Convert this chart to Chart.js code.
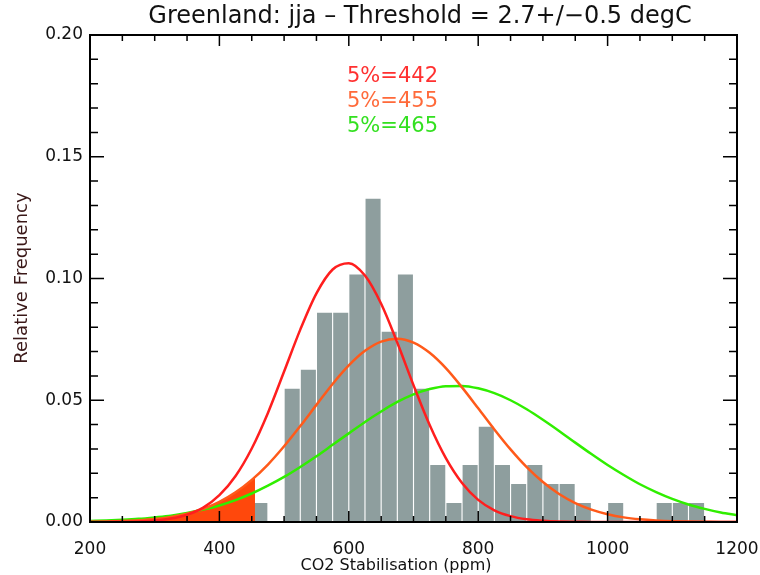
<!DOCTYPE html>
<html>
<head>
<meta charset="utf-8">
<script src="https://cdn.jsdelivr.net/npm/chart.js@4.4.1/dist/chart.umd.min.js"></script>
<style>
  body { margin: 0; background: #fff; }
  #wrap { width: 760px; height: 575px; }
</style>
</head>
<body>
<div id="wrap"><canvas id="chart" width="760" height="575"></canvas></div>
<script>
// histogram bins (bin centres, 25 ppm wide) and relative frequency
const binCentres = [462.5, 512.5, 537.5, 562.5, 587.5, 612.5, 637.5, 662.5, 687.5, 712.5, 737.5, 762.5,
  787.5, 812.5, 837.5, 862.5, 887.5, 912.5, 937.5, 962.5, 1012.5, 1087.5, 1112.5, 1137.5];
const binFreq = [0.0078, 0.0547, 0.0625, 0.0859, 0.0859, 0.1016, 0.1328, 0.0781, 0.1016, 0.0547, 0.0234, 0.0078,
  0.0234, 0.0391, 0.0234, 0.0156, 0.0234, 0.0156, 0.0156, 0.0078, 0.0078, 0.0078, 0.0078, 0.0078];

// fitted curves, read every 25 ppm
const curveX = [200, 225, 250, 275, 300, 325, 350, 375, 400, 425, 450, 475, 500, 525, 550, 575, 600, 625, 650, 675,
  700, 725, 750, 775, 800, 825, 850, 875, 900, 925, 950, 975, 1000, 1025, 1050, 1075, 1100, 1125, 1150, 1175, 1200];
const redCurve = [0.0000, 0.0000, 0.0001, 0.0002, 0.0006, 0.0014, 0.0030, 0.0059, 0.0110, 0.0189, 0.0302, 0.0448,
  0.0618, 0.0790, 0.0939, 0.1037, 0.1063, 0.1012, 0.0896, 0.0736, 0.0562, 0.0398, 0.0262, 0.0160, 0.0091, 0.0048,
  0.0024, 0.0011, 0.0005, 0.0002, 0.0001, 0.0000, 0.0000, 0.0000, 0.0000, 0.0000, 0.0000, 0.0000, 0.0000, 0.0000, 0.0000];
const orangeCurve = [0.0001, 0.0002, 0.0004, 0.0007, 0.0012, 0.0021, 0.0034, 0.0054, 0.0083, 0.0122, 0.0173, 0.0236,
  0.0311, 0.0394, 0.0481, 0.0567, 0.0643, 0.0703, 0.0741, 0.0753, 0.0737, 0.0695, 0.0632, 0.0553, 0.0467, 0.0380,
  0.0298, 0.0225, 0.0164, 0.0115, 0.0078, 0.0051, 0.0032, 0.0019, 0.0011, 0.0006, 0.0003, 0.0002, 0.0001, 0.0000, 0.0000];
const greenCurve = [0.0004, 0.0006, 0.0009, 0.0013, 0.0019, 0.0026, 0.0037, 0.0051, 0.0068, 0.0090, 0.0117, 0.0149,
  0.0185, 0.0226, 0.0270, 0.0317, 0.0364, 0.0411, 0.0454, 0.0493, 0.0524, 0.0546, 0.0558, 0.0559, 0.0549, 0.0529,
  0.0500, 0.0463, 0.0420, 0.0374, 0.0326, 0.0279, 0.0234, 0.0193, 0.0155, 0.0123, 0.0095, 0.0072, 0.0054, 0.0039, 0.0028];

// shaded tail below the 5% point
const tailX = [200, 225, 250, 275, 300, 325, 350, 375, 400, 425, 450, 455, 455];
const tailY = [0.0001, 0.0002, 0.0004, 0.0007, 0.0012, 0.0021, 0.0034, 0.0054, 0.0083, 0.0122, 0.0173, 0.0185, 0];

const percentLabels = ['5%=442', '5%=455', '5%=465'];
const percentColours = ['#ff3030', '#ff6a3a', '#33e020'];

const xy = (xs, ys) => xs.map((x, i) => ({ x: x, y: ys[i] }));

const fontFamily = '"DejaVu Sans", sans-serif';

const idlAxes = {
  id: 'idlAxes',
  afterDraw(chart) {
    const { ctx, chartArea: a, scales } = chart;
    const xs = scales.x, ys = scales.y;
    ctx.save();
    ctx.strokeStyle = '#000';
    ctx.lineWidth = 2;
    ctx.strokeRect(a.left, a.top, a.right - a.left, a.bottom - a.top);
    ctx.lineWidth = 1.5;
    ctx.beginPath();
    for (let v = 200; v <= 1200; v += 50) {
      const px = xs.getPixelForValue(v);
      const len = v % 200 === 0 ? 11 : 6;
      ctx.moveTo(px, a.bottom); ctx.lineTo(px, a.bottom - len);
      ctx.moveTo(px, a.top); ctx.lineTo(px, a.top + len);
    }
    for (let k = 0; k <= 20; k++) {
      const py = ys.getPixelForValue(k / 100);
      const len = k % 5 === 0 ? 14 : 8;
      ctx.moveTo(a.left, py); ctx.lineTo(a.left + len, py);
      ctx.moveTo(a.right, py); ctx.lineTo(a.right - len, py);
    }
    ctx.stroke();

    ctx.fillStyle = '#111';
    ctx.textAlign = 'center';
    ctx.textBaseline = 'middle';
    ctx.font = '24px ' + fontFamily;
    ctx.fillText('Greenland: jja \u2013 Threshold = 2.7+/\u22120.5 degC', 420, 17);
    ctx.font = '16px ' + fontFamily;
    ctx.fillText('CO2 Stabilisation (ppm)', 396, 566);
    ctx.save();
    ctx.translate(22, 278);
    ctx.rotate(-Math.PI / 2);
    ctx.font = '18px ' + fontFamily;
    ctx.fillStyle = '#3a1818';
    ctx.fillText('Relative Frequency', 0, 0);
    ctx.restore();

    ctx.textAlign = 'left';
    ctx.font = '21px ' + fontFamily;
    percentLabels.forEach((t, i) => {
      ctx.fillStyle = percentColours[i];
      ctx.fillText(t, 347, 77 + i * 25);
    });
    ctx.restore();
  }
};

const ctx = document.getElementById('chart').getContext('2d');
new Chart(ctx, {
  type: 'line',
  data: {
    datasets: [
      {
        type: 'line',
        data: xy(curveX, redCurve),
        borderColor: '#ff1e1e',
        borderWidth: 2.5,
        pointRadius: 0,
        cubicInterpolationMode: 'monotone',
        fill: false,
        order: 1,
      },
      {
        type: 'line',
        data: xy(curveX, orangeCurve),
        borderColor: '#ff5a1a',
        borderWidth: 2.5,
        pointRadius: 0,
        cubicInterpolationMode: 'monotone',
        fill: false,
        order: 2,
      },
      {
        type: 'line',
        data: xy(curveX, greenCurve),
        borderColor: '#30ee00',
        borderWidth: 2.5,
        pointRadius: 0,
        cubicInterpolationMode: 'monotone',
        fill: false,
        order: 3,
      },
      {
        type: 'line',
        data: xy(tailX, tailY),
        borderWidth: 0,
        borderColor: 'rgba(0,0,0,0)',
        backgroundColor: 'rgb(255,72,12)',
        pointRadius: 0,
        tension: 0,
        fill: 'origin',
        order: 4,
      },
      {
        type: 'bar',
        data: xy(binCentres, binFreq),
        backgroundColor: '#8e9e9e',
        barPercentage: 0.93,
        categoryPercentage: 1,
        order: 5,
      },
    ],
  },
  options: {
    responsive: false,
    animation: false,
    layout: { padding: { top: 35, right: 23, left: 0, bottom: 0 } },
    plugins: {
      legend: { display: false },
      tooltip: { enabled: false },
    },
    scales: {
      x: {
        type: 'linear',
        min: 200,
        max: 1200,
        offset: false,
        grid: { display: false, drawTicks: false },
        border: { display: false },
        ticks: {
          stepSize: 200,
          padding: 17,
          color: '#111',
          font: { family: fontFamily, size: 17 },
          maxRotation: 0,
          callback: (v) => String(v),
        },
        afterFit: (s) => { s.height = 53; s.paddingLeft = 0; s.paddingRight = 0; },
      },
      y: {
        min: 0,
        max: 0.2,
        grid: { display: false, drawTicks: false },
        border: { display: false },
        ticks: {
          stepSize: 0.05,
          padding: 7,
          color: '#111',
          font: { family: fontFamily, size: 17 },
          callback: (v) => v.toFixed(2),
        },
        afterFit: (s) => { s.width = 90; s.paddingTop = 0; s.paddingBottom = 0; },
      },
    },
  },
  plugins: [idlAxes],
});
</script>
</body>
</html>
